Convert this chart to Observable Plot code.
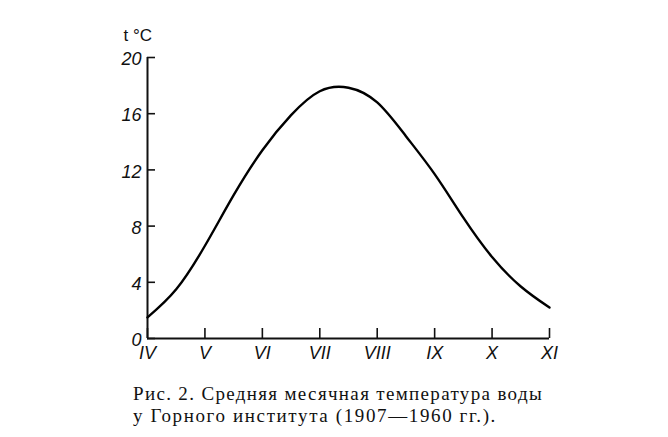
<!DOCTYPE html>
<html><head><meta charset="utf-8">
<script src="https://cdn.jsdelivr.net/npm/d3@7"></script>
<script src="https://cdn.jsdelivr.net/npm/@observablehq/plot@0.6"></script>
<style>
body{margin:0;background:#fff;width:668px;height:437px;overflow:hidden;position:relative}
.cap{position:absolute;left:133px;font-family:"Liberation Serif",serif;font-size:19px;line-height:20px;height:20px;color:#111;white-space:nowrap}
</style></head>
<body>
<div id="chart"></div>
<div class="cap" id="cap1" style="top:384px"><span>Рис. 2. Средняя месячная температура воды</span></div>
<div class="cap" id="cap2" style="top:406px"><span>у Горного института (1907—1960 гг.).</span></div>
<script>
const months = [4, 4.5, 5, 5.5, 6, 6.5, 7, 7.5, 8, 8.5, 9, 9.5, 10, 10.5, 11];
const temps  = [1.5, 3.5, 6.6, 10.2, 13.4, 15.9, 17.6, 17.85, 16.8, 14.4, 11.7, 8.6, 5.8, 3.7, 2.2];
const monthTicks = [4, 5, 6, 7, 8, 9, 10, 11];
const monthLabels = ["IV", "V", "VI", "VII", "VIII", "IX", "X", "XI"];
const tempTicks = [0, 4, 8, 12, 16, 20];

const data = months.map((m, i) => ({m, t: temps[i]}));

const plot = Plot.plot({
  width: 668, height: 370,
  marginLeft: 147, marginRight: 119, marginTop: 57, marginBottom: 32,
  x: {domain: [4, 11]},
  y: {domain: [0, 20]},
  style: {fontFamily: "'Liberation Sans Narrow', 'Liberation Sans', sans-serif", fontSize: "18px", fontStyle: "italic", color: "#111"},
  marks: [
    Plot.axisY(tempTicks, {tickSize: -8, tickFormat: () => "", label: null, strokeWidth: 1.6}),
    Plot.axisY(tempTicks, {tickSize: 0, tickPadding: 6, label: null, fontSize: 18, dy: 2}),
    Plot.axisX(monthTicks, {tickSize: -10, tickFormat: () => "", label: null, strokeWidth: 1.6}),
    Plot.axisX(monthTicks, {tickSize: 0, tickPadding: 8, tickFormat: (d) => monthLabels[monthTicks.indexOf(d)], label: null, fontSize: 18}),
    Plot.ruleX([4], {strokeWidth: 2}),
    Plot.ruleY([0], {strokeWidth: 2}),
    Plot.text(["t °C"], {frameAnchor: "top-left", dx: -24, dy: -17, fontSize: 17, fontStyle: "normal", textAnchor: "start", lineAnchor: "bottom"}),
    Plot.line(data, {x: "m", y: "t", curve: "natural", stroke: "#000", strokeWidth: 2.4})
  ]
});
document.getElementById("chart").appendChild(plot);

// stretch caption lines to the printed widths
[["cap1", 410], ["cap2", 364]].forEach(([id, target]) => {
  const span = document.querySelector("#" + id + " span");
  const n = span.textContent.length;
  const w0 = span.getBoundingClientRect().width;
  span.style.letterSpacing = ((target - w0) / n) + "px";
});
</script>
</body></html>
